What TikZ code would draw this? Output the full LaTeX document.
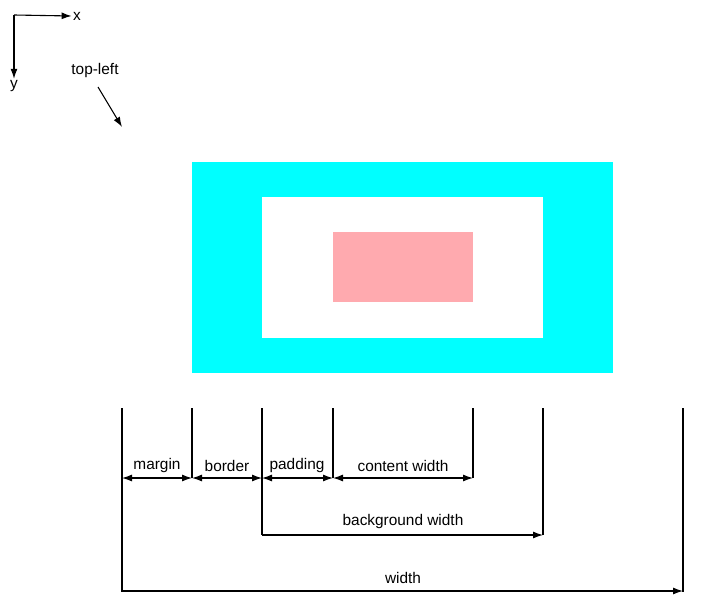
\documentclass[tikz,border=0pt]{standalone}
\usepackage{fontspec}
\setmainfont{Liberation Sans}
\usetikzlibrary{arrows.meta,positioning}
\definecolor{boxcyan}{RGB}{0,255,255}
\definecolor{boxpink}{RGB}{255,170,175}

\begin{document}
\begin{tikzpicture}[x=1pt,y=-1pt,line width=1.1pt,
        >={Latex[length=10pt,width=7pt]},
        lbl/.style={font=\fontsize{15.4}{18}\selectfont, inner sep=1pt}]
        \useasboundingbox (0,0) rectangle (701,610);

        % boxes
        \fill[boxcyan] (192,162) rectangle (613,373);
        \fill[white] (262,197) rectangle (543,338);
        \fill[boxpink] (333,232) rectangle (473,302);

        % axes
        \coordinate (origin) at (14,15);
        \node[lbl] (xlab) at (77,16) {x};
        \node[lbl] (ylab) at (14,86) {y};
        \draw[->] (origin) -- (xlab.west);
        \draw[->] (origin) -- (ylab.north);

        \node[lbl] (topleft) at (95,71) {top-left};
        \coordinate (corner) at (122,127);
        \draw[->] (98,87) -- (corner);

        % extension lines
        \coordinate (e1) at (122,408);
        \coordinate (e2) at (192,408);
        \coordinate (e3) at (262,408);
        \coordinate (e4) at (333,408);
        \coordinate (e5) at (473,408);
        \coordinate (e6) at (543,408);
        \coordinate (e7) at (683,408);
        \draw (e1) -- (122,592);
        \draw (e2) -- (192,478);
        \draw (e3) -- (262,535);
        \draw (e4) -- (333,478);
        \draw (e5) -- (473,478);
        \draw (e6) -- (543,535);
        \draw (e7) -- (683,592);

        % dimensions
        \draw[<->] (e1 |- 0,478) -- (e2 |- 0,478);
        \draw[<->] (e2 |- 0,478) -- (e3 |- 0,478);
        \draw[<->] (e3 |- 0,478) -- (e4 |- 0,478);
        \draw[<->] (e4 |- 0,478) -- (e5 |- 0,478);
        \draw[->] (e3 |- 0,535) -- (e6 |- 0,535);
        \draw[->] (e1 |- 0,591) -- (e7 |- 0,591);

        \node[lbl] (margin) at (157,466) {margin};
        \node[lbl] (border) at (227,466) {border};
        \node[lbl] (padding) at (297,466) {padding};
        \node[lbl] (content) at (403,466) {content width};
        \node[lbl] (bgwidth) at (403,522) {background width};
        \node[lbl] (width) at (403,578) {width};

    \end{tikzpicture}
\end{document}
